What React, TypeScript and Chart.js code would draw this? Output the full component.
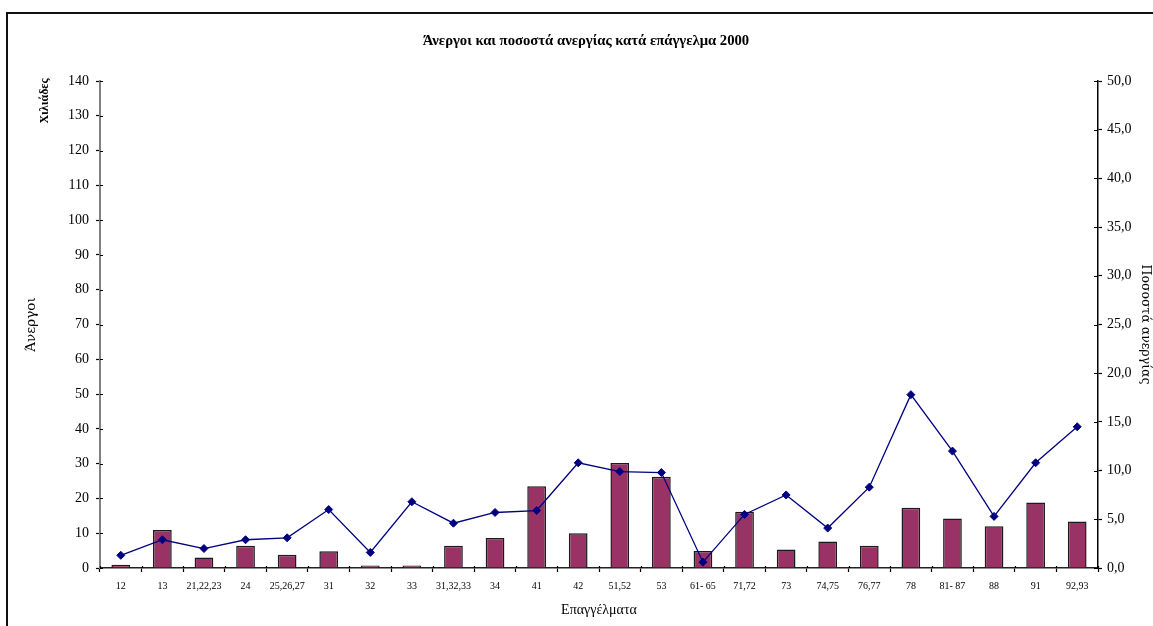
import React, { useEffect, useRef } from "react";
import { Chart, registerables } from "chart.js";

Chart.register(...registerables);

const chartTitle = "Άνεργοι και ποσοστά ανεργίας κατά επάγγελμα 2000";
const unitLabel = "Χιλιάδες";
const leftAxisTitle = "Άνεργοι";
const rightAxisTitle = "Ποσοστά ανεργίας";
const xAxisTitle = "Επαγγέλματα";

const categories = [
  "12", "13", "21,22,23", "24", "25,26,27", "31", "32", "33", "31,32,33", "34", "41", "42",
  "51,52", "53", "61- 65", "71,72", "73", "74,75", "76,77", "78", "81- 87", "88", "91", "92,93",
];

// Unemployed (thousands)
const unemployed = [
  0.9, 10.9, 3.0, 6.4, 3.8, 4.8, 0.7, 0.7, 6.4, 8.6, 23.5, 10.0,
  30.2, 26.2, 4.9, 16.2, 5.3, 7.6, 6.4, 17.3, 14.2, 12.0, 18.8, 13.4,
];

// Unemployment rate (%)
const unemploymentRate = [
  1.3, 2.9, 2.0, 2.9, 3.1, 6.0, 1.6, 6.8, 4.6, 5.7, 5.9, 10.8,
  9.9, 9.8, 0.6, 5.5, 7.5, 4.1, 8.3, 17.8, 12.0, 5.3, 10.8, 14.5,
];

const leftTicks = [0, 10, 20, 30, 40, 50, 60, 70, 80, 90, 100, 110, 120, 130, 140];
const rightTicks = [0, 5, 10, 15, 20, 25, 30, 35, 40, 45, 50];

const FONT = "'Liberation Serif', 'DejaVu Serif', serif";
const WIDE_FONT = "'DejaVu Serif', serif";

const textPlugin = {
  id: "extraText",
  afterDraw(chart: any) {
    const ctx = chart.ctx;
    ctx.save();
    ctx.fillStyle = "#000";
    ctx.textAlign = "center";
    ctx.textBaseline = "middle";
    ctx.font = `bold 14.7px ${FONT}`;
    ctx.fillText(chartTitle, 586, 41);
    ctx.translate(45, 101);
    ctx.rotate(-Math.PI / 2);
    ctx.font = `bold 12px ${FONT}`;
    ctx.fillText(unitLabel, 0, 0);
    ctx.restore();
  },
};

const innerTicksPlugin = {
  id: "innerTicks",
  afterDatasetsDraw(chart: any) {
    const ctx = chart.ctx;
    ctx.save();
    ctx.strokeStyle = "#000";
    ctx.lineWidth = 1.2;
    const y = chart.scales.y;
    const y1 = chart.scales.y1;
    const x = chart.scales.x;
    ctx.beginPath();
    y.ticks.forEach((_t: any, i: number) => {
      const p = Math.round(y.getPixelForTick(i)) + 0.5;
      ctx.moveTo(y.right, p);
      ctx.lineTo(y.right + 3, p);
    });
    y1.ticks.forEach((_t: any, i: number) => {
      const p = Math.round(y1.getPixelForTick(i)) + 0.5;
      ctx.moveTo(y1.left, p);
      ctx.lineTo(y1.left - 4, p);
    });
    for (let i = 0; i <= categories.length; i++) {
      const p =
        i < categories.length
          ? x.getPixelForTick(i) - (x.getPixelForTick(1) - x.getPixelForTick(0)) / 2
          : x.right;
      const px = Math.round(p) + 0.5;
      ctx.moveTo(px, x.top);
      ctx.lineTo(px, x.top - 2);
    }
    ctx.stroke();
    ctx.restore();
  },
};

export default function App() {
  const ref = useRef<HTMLCanvasElement>(null);

  useEffect(() => {
    if (!ref.current) return;
    const chart = new Chart(ref.current, {
      type: "bar",
      data: {
        labels: categories,
        datasets: [
          {
            type: "line",
            label: rightAxisTitle,
            data: unemploymentRate,
            yAxisID: "y1",
            borderColor: "#000080",
            backgroundColor: "#000080",
            borderWidth: 1.3,
            pointStyle: "rectRot",
            pointRadius: 4,
            pointBorderWidth: 1,
            tension: 0,
            order: 0,
          } as any,
          {
            type: "bar",
            label: leftAxisTitle,
            data: unemployed,
            yAxisID: "y",
            backgroundColor: "#993366",
            borderColor: "#1a1a1a",
            borderWidth: 1.5,
            barPercentage: 0.45,
            categoryPercentage: 1,
            order: 1,
          } as any,
        ],
      },
      options: {
        responsive: false,
        animation: false,
        events: [],
        layout: { padding: { top: 81, left: 0, right: 0, bottom: 0 } },
        plugins: {
          legend: { display: false },
          tooltip: { enabled: false },
          title: { display: false },
        },
        scales: {
          x: {
            type: "category",
            offset: true,
            afterFit: (s: any) => {
              s.height = 58;
            },
            grid: {
              display: true,
              offset: true,
              drawOnChartArea: false,
              drawTicks: true,
              tickLength: 4,
              tickColor: "#000",
              tickWidth: 1.2,
            },
            border: { display: true, color: "#222", width: 1.5 },
            ticks: {
              color: "#000",
              font: { family: FONT, size: 10 },
              padding: 8,
              maxRotation: 0,
              minRotation: 0,
              autoSkip: false,
            },
            title: {
              display: true,
              text: xAxisTitle,
              color: "#000",
              font: { family: FONT, size: 14 },
              padding: { top: 0, bottom: 7 },
            },
          },
          y: {
            position: "left",
            min: 0,
            max: 140,
            afterFit: (s: any) => {
              s.width = 100;
            },
            afterBuildTicks: (s: any) => {
              s.ticks = leftTicks.map((v) => ({ value: v }));
            },
            grid: {
              drawOnChartArea: false,
              drawTicks: true,
              tickLength: 4,
              tickColor: "#000",
              tickWidth: 1.2,
            },
            border: { display: true, color: "#808080", width: 2 },
            ticks: {
              color: "#000",
              font: { family: FONT, size: 14 },
              padding: 7,
              callback: (v: any) => String(v),
            },
            title: {
              display: true,
              text: leftAxisTitle,
              color: "#000",
              font: { family: WIDE_FONT, size: 13.5 },
              padding: { top: 23, bottom: 0 },
            },
          },
          y1: {
            position: "right",
            min: 0,
            max: 50,
            afterFit: (s: any) => {
              s.width = 55;
            },
            afterBuildTicks: (s: any) => {
              s.ticks = rightTicks.map((v) => ({ value: v }));
            },
            grid: {
              drawOnChartArea: false,
              drawTicks: true,
              tickLength: 4,
              tickColor: "#000",
              tickWidth: 1.2,
            },
            border: { display: true, color: "#000", width: 1.5 },
            ticks: {
              color: "#000",
              font: { family: FONT, size: 14 },
              padding: 5,
              callback: (v: any) => Number(v).toFixed(1).replace(".", ","),
            },
            title: {
              display: true,
              text: rightAxisTitle,
              color: "#000",
              font: { family: WIDE_FONT, size: 12.5 },
              padding: { top: 0, bottom: 0 },
            },
          },
        },
      } as any,
      plugins: [textPlugin, innerTicksPlugin],
    });
    return () => chart.destroy();
  }, []);

  return (
    <>
      <canvas
        ref={ref}
        width={1153}
        height={626}
        style={{ position: "fixed", left: 0, top: 0, width: 1153, height: 626 }}
      />
      <div
        style={{
          position: "fixed",
          left: 6,
          top: 12,
          width: 1160,
          height: 630,
          borderTop: "2px solid #111",
          borderLeft: "2px solid #111",
          pointerEvents: "none",
        }}
      />
    </>
  );
}
